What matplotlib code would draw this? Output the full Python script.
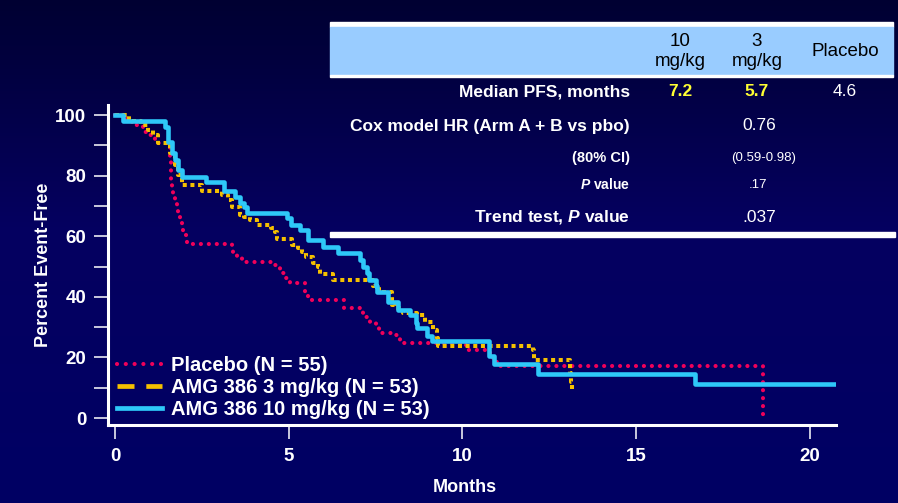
import numpy as np
import matplotlib
matplotlib.use("Agg")
import matplotlib.pyplot as plt
from matplotlib.lines import Line2D
from matplotlib.patches import Rectangle

W, H = 898, 503

# Kaplan-Meier steps (months, percent event-free)
placebo_t = [0, 0.35, 0.5, 0.8, 1.0, 1.15, 1.58, 1.6, 1.62, 1.64, 1.67, 1.73, 1.78,
             1.81, 1.87, 1.93, 1.96, 2.07, 3.37, 3.4, 3.51, 3.65, 4.55, 4.75, 4.83,
             4.92, 5.04, 5.47, 5.55, 5.6, 6.6, 7.1, 7.15, 7.35, 7.5, 7.6, 8.0, 8.14,
             8.2, 10.1, 10.8, 10.88, 11.08, 18.65]
placebo_s = [100, 98.5, 96.7, 94.4, 93.4, 90.8, 85.8, 80.9, 78, 76, 73.6, 71.3, 69.3,
             67, 64.7, 62.7, 60.4, 57.4, 56.4, 54.8, 53.5, 51.5, 50.5, 48.8, 47.9,
             46.2, 44.6, 41.6, 39.6, 38.9, 36.3, 35, 33.3, 31.7, 30, 28, 27.4, 26.4,
             24.8, 22.4, 20, 18.5, 17.2, 0]

amg3_t = [0, 0.4, 0.75, 0.95, 1.1, 1.25, 1.58, 1.73, 1.81, 1.93, 2.5, 3.08, 3.25,
          3.37, 3.6, 3.7, 3.88, 4.1, 4.5, 4.6, 4.65, 5.09, 5.26, 5.37, 5.5, 5.69,
          5.84, 5.9, 6.27, 7.42, 7.6, 7.97, 8.06, 8.29, 8.69, 8.92, 9.15, 9.27, 9.3,
          12.03, 12.05, 13.09, 13.12, 13.15]
amg3_s = [100, 98, 96.7, 95, 93.5, 90.8, 87.5, 83.5, 80.2, 76.9, 75, 73.6, 72,
          69.6, 67, 66.3, 65.3, 63.7, 62.7, 61.4, 59, 57, 56, 54.8, 53, 51.2,
          49.8, 47.5, 45.5, 43.5, 41.6, 37.3, 36.3, 34.6, 34, 31.7, 29, 26.4, 23.8,
          22.4, 19.1, 15, 12, 9.6]

amg10_t = [0, 0.23, 1.44, 1.53, 1.65, 1.73, 1.81, 1.93, 2.62, 3.14, 3.45, 3.6, 3.7,
           3.8, 4.95, 5.08, 5.32, 5.55, 5.99, 6.42, 7.05, 7.15, 7.25, 7.32, 7.5,
           7.55, 7.86, 8.14, 8.49, 8.65, 8.7, 8.98, 9.12, 10.76, 10.9, 12.17, 16.7,
           20.78]
amg10_s = [100, 98, 96, 91, 87.5, 85, 82, 79.5, 78, 75, 73, 71, 69.5,
           67.6, 66, 63.7, 62, 58.7, 56.4, 54.5, 52, 50, 48, 45.5, 43.5,
           41.6, 38.3, 35.6, 34, 31.5, 29.7, 27, 25.4, 20.5, 17.8, 14.5, 11.2,
           11.2]

legend_labels = ["Placebo (N = 55)", "AMG 386 3 mg/kg (N = 53)", "AMG 386 10 mg/kg (N = 53)"]

# Summary table
col_heads = ["10\nmg/kg", "3\nmg/kg", "Placebo"]
median_pfs = ["7.2", "5.7", "4.6"]
hr_value = "0.76"
ci_value = "(0.59-0.98)"
p_value = ".17"
trend_p = ".037"

RED = "#f0005a"
YELLOW = "#f5c000"
BLUE = "#2ec8f8"
LIGHT = "#99ccff"

plt.rcParams["font.family"] = ["Liberation Sans", "DejaVu Sans"]
plt.rcParams["mathtext.fontset"] = "custom"
plt.rcParams["mathtext.it"] = "Liberation Sans:italic:bold"
plt.rcParams["mathtext.rm"] = "Liberation Sans:bold"


def fx(x):
    return x / W


def fy(y):
    return 1 - y / H


fig = plt.figure(figsize=(W / 100, H / 100), dpi=100)

# Background gradient, darker at the top
bg = fig.add_axes([0, 0, 1, 1], zorder=-10)
top = np.array([0, 0, 50]) / 255
mid = np.array([5, 0, 96]) / 255
bot = np.array([0, 0, 100]) / 255
n = 256
grad = np.zeros((n, 1, 3))
for i in range(n):
    f = i / (n - 1)
    if f < 0.45:
        grad[i, 0] = top + (mid - top) * f / 0.45
    else:
        grad[i, 0] = mid + (bot - mid) * (f - 0.45) / 0.55
bg.imshow(grad, aspect="auto", extent=[0, 1, 0, 1])
bg.axis("off")

ax = fig.add_axes([fx(108), fy(425), (836 - 108) / W, (425 - 105) / H])
ax.set_facecolor("none")

ax.step(placebo_t, placebo_s, where="post", color=RED, lw=3.0,
        ls=(0, (0.01, 1.9)), dash_capstyle="round", zorder=3)
ax.step(amg3_t, amg3_s, where="post", color=YELLOW, lw=2.9,
        ls=(0, (1, 0.9)), dash_capstyle="butt", zorder=4)
ax.step(amg10_t, amg10_s, where="post", color=BLUE, lw=3.3, zorder=5)

ax.set_xlim(-0.2, 20.75)
ax.set_ylim(-2.3, 103.3)
ax.set_xticks([0, 5, 10, 15, 20])
ax.set_yticks([0, 20, 40, 60, 80, 100])
ax.set_yticks([10, 30, 50, 70, 90], minor=True)
for s in ["top", "right"]:
    ax.spines[s].set_visible(False)
for s in ["left", "bottom"]:
    ax.spines[s].set_color("white")
    ax.spines[s].set_linewidth(2.2)
ax.tick_params(axis="both", which="both", colors="white", length=10, width=1.1,
               direction="out")
ax.tick_params(axis="y", pad=5.5)
ax.tick_params(axis="x", pad=6.5)
for lab in ax.get_xticklabels() + ax.get_yticklabels():
    lab.set_fontsize(13.5)
    lab.set_fontweight("bold")
    lab.set_color("white")

ax.set_ylabel("Percent Event-Free", color="white", fontsize=13, fontweight="bold")
ax.yaxis.set_label_coords(-0.077, 0.5)
ax.set_xlabel("Months", color="white", fontsize=13, fontweight="bold")
ax.xaxis.set_label_coords(0.49, -0.1675)

handles = [
    Line2D([], [], color=RED, lw=3.0, ls=(0, (0.01, 2.1)), dash_capstyle="round"),
    Line2D([], [], color=YELLOW, lw=3.4, ls=(0, (3.6, 2.5))),
    Line2D([], [], color=BLUE, lw=3.4),
]
leg = ax.legend(handles, legend_labels, loc="upper left", bbox_to_anchor=(-0.0014, 0.2475),
                frameon=False, borderpad=0, handlelength=2.25, handletextpad=0.45,
                labelspacing=0.15, prop={"size": 14.5, "weight": "bold"})
for t in leg.get_texts():
    t.set_color("white")

# Table at the top right
fig.patches.append(Rectangle((fx(330), fy(27)), (893 - 330) / W, 5 / H,
                             transform=fig.transFigure, color="white", zorder=1))
fig.patches.append(Rectangle((fx(330), fy(75)), (893 - 330) / W, 48 / H,
                             transform=fig.transFigure, color=LIGHT, zorder=1))
fig.patches.append(Rectangle((fx(330), fy(77)), (893 - 330) / W, 2 / H,
                             transform=fig.transFigure, color="white", zorder=1))
fig.patches.append(Rectangle((fx(330), fy(237)), (895 - 330) / W, 5 / H,
                             transform=fig.transFigure, color="white", zorder=6))

col_x = [680, 757, 845]
for x, head in zip(col_x, col_heads):
    fig.text(fx(x), fy(51.5), head, ha="center", va="center", fontsize=13.5,
             color="black", linespacing=1.3)

label_x = fx(630)
big = 12.5
small = 9.5
fig.text(label_x, fy(92), "Median PFS, months", ha="right", va="center",
         fontsize=big, fontweight="bold", color="white")
for x, v in zip(col_x, median_pfs):
    c = "white" if v == median_pfs[-1] else "#ffff33"
    w = "normal" if v == median_pfs[-1] else "bold"
    fig.text(fx(x), fy(92), v, ha="center", va="center", fontsize=big,
             fontweight=w, color=c)

fig.text(label_x, fy(126), "Cox model HR (Arm A + B vs pbo)", ha="right", va="center",
         fontsize=big, fontweight="bold", color="white")
fig.text(fx(759), fy(126), hr_value, ha="center", va="center", fontsize=big,
         color="white")

fig.text(label_x, fy(158), "(80% CI)", ha="right", va="center",
         fontsize=10.5, fontweight="bold", color="white")
fig.text(fx(764), fy(158), ci_value, ha="center", va="center", fontsize=small,
         color="white")

fig.text(label_x, fy(185), r"$\mathit{P}$ value", ha="right", va="center",
         fontsize=10, fontweight="bold", color="white")
fig.text(fx(758), fy(185), p_value, ha="center", va="center", fontsize=small,
         color="white")

fig.text(label_x, fy(217), r"Trend test, $\mathit{P}$ value", ha="right", va="center",
         fontsize=big, fontweight="bold", color="white")
fig.text(fx(759), fy(217), trend_p, ha="center", va="center", fontsize=big,
         color="white")

fig.savefig("out.png", dpi=100)
